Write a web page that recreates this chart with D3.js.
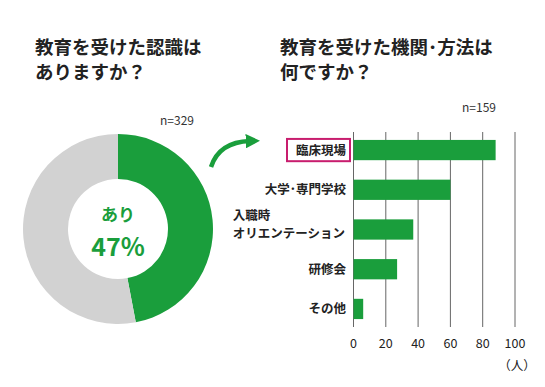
<!DOCTYPE html>
<html>
<head>
<meta charset="utf-8">
<script src="https://cdn.jsdelivr.net/npm/d3@7"></script>
<style>
  body { margin: 0; background: #fff; }
  svg { display: block; font-family: "Noto Sans CJK JP", "Noto Sans", sans-serif; }
</style>
</head>
<body>
<div id="chart"></div>
<script>
// donut data
const donutLabels = ["あり", "なし"];
const donutValues = [47, 53];
const donutN = 329;

// bar data
const barCategories = ["臨床現場", "大学･専門学校", "入職時\nオリエンテーション", "研修会", "その他"];
const barValues = [88, 60, 37, 27, 6];
const barTicks = [0, 20, 40, 60, 80, 100];
const barN = 159;

const green = "#1a9e3c";
const gray = "#d2d2d2";

const width = 545, height = 387;
const svg = d3.select("#chart").append("svg")
    .attr("width", width)
    .attr("height", height);

// titles
const titles = [
    { x: 35, lines: ["教育を受けた認識は", "ありますか？"] },
    { x: 280, lines: ["教育を受けた機関･方法は", "何ですか？"] }
];
titles.forEach(t => {
    t.lines.forEach((line, i) => {
        svg.append("text")
            .attr("x", t.x)
            .attr("y", 54 + i * 25)
            .attr("font-size", 18.5)
            .attr("font-weight", "bold")
            .attr("fill", "#222")
            .text(line);
    });
});

// donut
const cx = 118, cy = 229, outerR = 95, innerR = 50;
const pie = d3.pie().sort(null).value(d => d);
const arc = d3.arc().innerRadius(innerR).outerRadius(outerR);
const donut = svg.append("g").attr("transform", `translate(${cx},${cy})`);
donut.selectAll("path")
    .data(pie(donutValues))
    .join("path")
    .attr("d", arc)
    .attr("fill", (d, i) => i === 0 ? green : gray);

donut.append("text")
    .attr("y", -8)
    .attr("text-anchor", "middle")
    .attr("font-size", 17)
    .attr("font-weight", "bold")
    .attr("fill", green)
    .text(donutLabels[0]);
donut.append("text")
    .attr("y", 27)
    .attr("text-anchor", "middle")
    .attr("font-size", 25)
    .attr("font-weight", "bold")
    .attr("fill", green)
    .text(donutValues[0] + "%");

svg.append("text")
    .attr("x", 194)
    .attr("y", 125)
    .attr("text-anchor", "end")
    .attr("font-size", 12)
    .attr("fill", "#333")
    .text("n=" + donutN);

// arrow
svg.append("defs").append("marker")
    .attr("id", "head")
    .attr("viewBox", "0 0 10 10")
    .attr("refX", 3)
    .attr("refY", 5)
    .attr("markerWidth", 3.2)
    .attr("markerHeight", 3.2)
    .attr("orient", "auto")
    .append("path")
    .attr("d", "M0,0 L10,5 L0,10 Z")
    .attr("fill", green);
svg.append("path")
    .attr("d", "M211,167 Q219,142 250,141")
    .attr("fill", "none")
    .attr("stroke", green)
    .attr("stroke-width", 4.5)
    .attr("marker-end", "url(#head)");

// bar chart
const x = d3.scaleLinear().domain([0, 100]).range([353.5, 515]);
const y = d3.scaleBand().domain(barCategories).range([130, 329]).paddingInner(0.49).paddingOuter(0.25);

const g = svg.append("g");
g.selectAll("line.grid")
    .data(barTicks)
    .join("line")
    .attr("class", "grid")
    .attr("x1", d => x(d)).attr("x2", d => x(d))
    .attr("y1", 132).attr("y2", 327)
    .attr("stroke", "#666")
    .attr("stroke-width", 1);

g.selectAll("rect.bar")
    .data(barValues)
    .join("rect")
    .attr("class", "bar")
    .attr("x", x(0))
    .attr("y", (d, i) => y(barCategories[i]))
    .attr("width", d => x(d) - x(0))
    .attr("height", y.bandwidth())
    .attr("fill", green);

// tick labels
g.selectAll("text.tick")
    .data(barTicks)
    .join("text")
    .attr("class", "tick")
    .attr("x", d => x(d))
    .attr("y", 348)
    .attr("text-anchor", "middle")
    .attr("font-size", 12.5)
    .attr("fill", "#222")
    .text(d => d);
svg.append("text")
    .attr("x", 517)
    .attr("y", 370)
    .attr("text-anchor", "middle")
    .attr("font-size", 12.5)
    .attr("fill", "#222")
    .text("（人）");

// category labels (multi-line labels are left-aligned as a block ending at the axis)
barCategories.forEach((c, i) => {
    const lines = c.split("\n");
    const mid = y(c) + y.bandwidth() / 2;
    if (lines.length === 1) {
        svg.append("text")
            .attr("x", 346)
            .attr("y", mid + 4.5)
            .attr("text-anchor", "end")
            .attr("font-size", 12.5)
            .attr("font-weight", "bold")
            .attr("fill", "#222")
            .text(c);
    } else {
        const block = svg.append("text")
            .attr("font-size", 12.5)
            .attr("font-weight", "bold")
            .attr("fill", "#222");
        lines.forEach((line, j) => {
            block.append("tspan")
                .attr("x", 0)
                .attr("y", mid - 9.5 + j * 18)
                .text(line);
        });
        const w = block.node().getBBox().width;
        block.attr("transform", `translate(${345 - w},0)`);
    }
});

// highlight box on first category
svg.append("rect")
    .attr("x", 287)
    .attr("y", y(barCategories[0]) - 1)
    .attr("width", 63)
    .attr("height", y.bandwidth() + 2)
    .attr("fill", "none")
    .attr("stroke", "#c81d6e")
    .attr("stroke-width", 2);

svg.append("text")
    .attr("x", 496)
    .attr("y", 112)
    .attr("text-anchor", "end")
    .attr("font-size", 12)
    .attr("fill", "#333")
    .text("n=" + barN);
</script>
</body>
</html>
